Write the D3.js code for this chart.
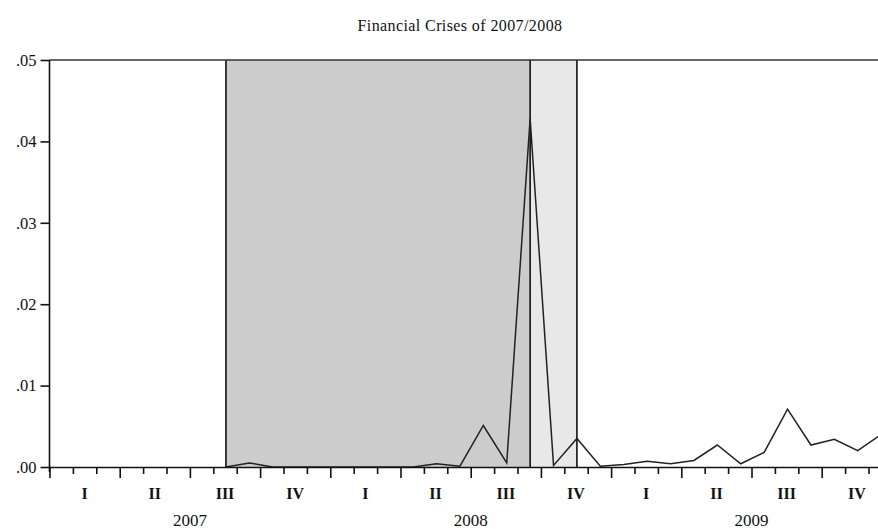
<!DOCTYPE html>
<html>
<head>
<meta charset="utf-8">
<script src="https://cdn.jsdelivr.net/npm/d3@7"></script>
<style>
  html, body { margin: 0; padding: 0; background: #fff; }
  svg { display: block; }
  text { font-family: "Liberation Serif", "Times New Roman", serif; fill: #111; }
</style>
</head>
<body>
<div id="chart"></div>
<script>
// ---- data (monthly, Jan 2007 .. Dec 2009) ----
const months = d3.range(36); // 0 = 2007M01
const values = [
  null, null, null, null, null, null, null,          // 2007M01-M07
  0.0000, 0.0005, 0.0000, 0.0000, 0.0000,            // 2007M08-M12
  0.0000, 0.0000, 0.0000, 0.0000, 0.0004, 0.0001,    // 2008M01-M06
  0.0051, 0.0005, 0.0428, 0.0002, 0.0035, 0.0001,    // 2008M07-M12
  0.0003, 0.0007, 0.0004, 0.0008, 0.0027, 0.0004,    // 2009M01-M06
  0.0018, 0.0071, 0.0027, 0.0034, 0.0020, 0.0040     // 2009M07-M12
];
const quarterLabels = ["I", "II", "III", "IV"];
const yearLabels = ["2007", "2008", "2009"];
const yTicks = [0, 0.01, 0.02, 0.03, 0.04, 0.05];
const yTickLabels = [".00", ".01", ".02", ".03", ".04", ".05"];
// shaded periods (in observation index): crisis phase 1 and phase 2
const shadeStarts = [7, 20];
const shadeEnds = [20, 22];
const shadeFills = ["#cccccc", "#e8e8e8"];
const chartTitle = "Financial Crises of 2007/2008";

// ---- layout ----
const W = 878, H = 529;
const mLeft = 49.5, mTop = 60, mBottom = 467;
const monthW = 23.4;
const mRight = mLeft + 36 * monthW;

const svg = d3.select("#chart").append("svg").attr("width", W).attr("height", H);

const x = d3.scaleLinear().domain([0, 36]).range([mLeft, mRight]);
const y = d3.scaleLinear().domain([0, 0.05]).range([mBottom, mTop]);
const off = 0.04; // observations sit marginally right of mid-month

// shading
shadeStarts.forEach((s, i) => {
  svg.append("rect")
    .attr("x", x(s + 0.5 + off)).attr("y", mTop)
    .attr("width", x(shadeEnds[i] + 0.5) - x(s + 0.5))
    .attr("height", mBottom - mTop)
    .attr("fill", shadeFills[i]);
});
// vertical boundary lines
const bounds = [shadeStarts[0], shadeStarts[1], shadeEnds[1]];
bounds.forEach(b => {
  svg.append("line")
    .attr("x1", x(b + 0.5 + off)).attr("x2", x(b + 0.5 + off))
    .attr("y1", mTop).attr("y2", mBottom)
    .attr("stroke", "#111").attr("stroke-width", 1.6);
});

// frame top
svg.append("line").attr("x1", mLeft).attr("x2", mRight).attr("y1", mTop).attr("y2", mTop)
  .attr("stroke", "#333").attr("stroke-width", 1.6);

// data line
const line = d3.line()
  .defined(d => d.v !== null)
  .x(d => x(d.m + 0.5 + off))
  .y(d => y(d.v));
svg.append("path")
  .datum(months.map(m => ({ m, v: values[m] })))
  .attr("d", line)
  .attr("fill", "none")
  .attr("stroke", "#222")
  .attr("stroke-width", 1.5)
  .attr("stroke-linejoin", "miter");

// y axis
const yAxis = d3.axisLeft(y)
  .tickValues(yTicks)
  .tickFormat((d, i) => yTickLabels[i])
  .tickSize(9)
  .tickPadding(4);
const gy = svg.append("g").attr("transform", `translate(${mLeft},0)`).call(yAxis);
gy.select(".domain").attr("stroke", "#111").attr("stroke-width", 1.6)
  .attr("d", `M0,${mTop}V${mBottom + 5}`);
gy.selectAll(".tick line").attr("stroke", "#111").attr("stroke-width", 1.6);
gy.selectAll(".tick text").style("font-size", "16.5px").attr("fill", "#111")
  .style("font-family", '"Liberation Serif", serif');

// x axis: monthly ticks, longer at quarter boundaries
const xAxis = d3.axisBottom(x)
  .tickValues(d3.range(0, 37))
  .tickFormat("")
  .tickSizeOuter(0);
const gx = svg.append("g").attr("transform", `translate(0,${mBottom})`).call(xAxis);
gx.select(".domain").attr("stroke", "#111").attr("stroke-width", 1.6);
gx.selectAll(".tick line")
  .attr("stroke", "#111").attr("stroke-width", 1.6)
  .attr("y2", d => (d % 3 === 0 ? 11 : 7));

// quarter labels
const qIdx = d3.range(12);
svg.append("g").selectAll("text").data(qIdx).join("text")
  .attr("x", q => x(q * 3 + 1.5))
  .attr("y", mBottom + 32)
  .attr("text-anchor", "middle")
  .style("font-size", "16px")
  .style("font-weight", "bold")
  .text(q => quarterLabels[q % 4]);

// year labels
svg.append("g").selectAll("text").data(yearLabels).join("text")
  .attr("x", (d, i) => x(i * 12 + 6))
  .attr("y", mBottom + 59)
  .attr("text-anchor", "middle")
  .style("font-size", "17px")
  .text(d => d);

// title
svg.append("text")
  .attr("x", 460).attr("y", 31)
  .attr("text-anchor", "middle")
  .style("font-size", "16px")
  .style("letter-spacing", "0.4px")
  .text(chartTitle);
</script>
</body>
</html>
